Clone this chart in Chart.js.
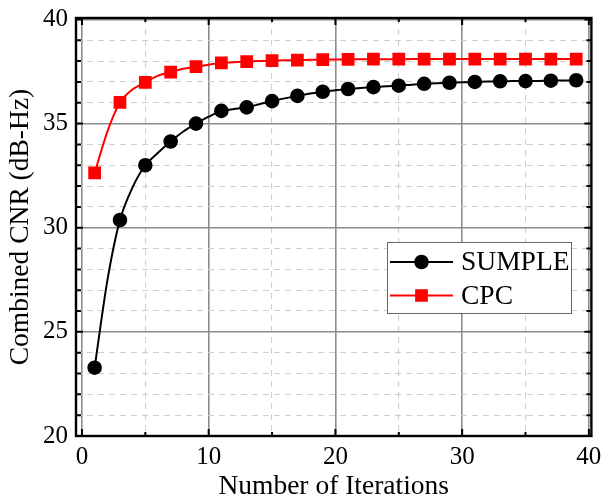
<!DOCTYPE html>
<html><head><meta charset="utf-8">
<script src="https://cdn.jsdelivr.net/npm/chart.js@4"></script>
<style>html,body{margin:0;padding:0;background:#fff}#wrap{width:601px;height:501px}</style>
</head><body><div id="wrap"><canvas id="c" width="601" height="501"></canvas></div>
<script>
const iterations = [1,2,3,4,5,6,7,8,9,10,11,12,13,14,15,16,17,18,19,20,21,22,23,24,25,26,27,28,29,30,31,32,33,34,35,36,37,38,39];
const sumple = [23.28,27.45,30.37,31.95,33.0,33.6,34.14,34.62,35.0,35.33,35.61,35.7,35.78,35.93,36.08,36.21,36.33,36.44,36.53,36.6,36.66,36.71,36.75,36.79,36.82,36.87,36.91,36.94,36.96,36.98,37.0,37.02,37.03,37.04,37.04,37.05,37.06,37.07,37.08];
const cpc = [32.63,34.6,36.02,36.65,36.98,37.3,37.47,37.63,37.73,37.83,37.91,37.95,37.98,38.0,38.02,38.04,38.05,38.06,38.07,38.08,38.08,38.09,38.09,38.09,38.09,38.1,38.1,38.1,38.1,38.1,38.1,38.1,38.1,38.1,38.1,38.1,38.1,38.1,38.1];
const seriesNames = ['SUMPLE','CPC'];
const xTicks = [0,5,10,15,20,25,30,35,40];
const yTicks = [20,21,22,23,24,25,26,27,28,29,30,31,32,33,34,35,36,37,38,39,40];
const xTitle = 'Number of Iterations';
const yTitle = 'Combined CNR (dB-Hz)';

const FONT = "'Liberation Serif','Times New Roman',serif";
const isMajorX = v => v % 10 === 0;
const isMajorY = v => v % 5 === 0;
const hasMarker = v => v % 2 === 1;
const markerSize = {circle: 6.3, rect: 7.6};

const framePlugin = {
  id: 'frame',
  afterDatasetsDraw(chart) {
    const {ctx, chartArea: a, scales: {x, y}} = chart;
    ctx.save();
    ctx.strokeStyle = '#000';
    ctx.lineWidth = 2;
    ctx.beginPath();
    xTicks.forEach(v => {
      const px = x.getPixelForValue(v);
      const L = isMajorX(v) ? 7 : 4;
      ctx.moveTo(px, a.bottom); ctx.lineTo(px, a.bottom - L);
      ctx.moveTo(px, a.top); ctx.lineTo(px, a.top + L);
    });
    yTicks.forEach(v => {
      const py = y.getPixelForValue(v);
      const L = isMajorY(v) ? 7 : 5;
      ctx.moveTo(a.left, py); ctx.lineTo(a.left + L, py);
      ctx.moveTo(a.right, py); ctx.lineTo(a.right - L, py);
    });
    ctx.stroke();
    ctx.lineWidth = 2.4;
    ctx.strokeRect(a.left, a.top, a.right - a.left, a.bottom - a.top);
    ctx.restore();
  },
  afterDraw(chart) {
    const {ctx} = chart;
    const bx = 387, by = 242, bw = 184, bh = 71;
    ctx.save();
    ctx.fillStyle = '#fff';
    ctx.fillRect(bx, by, bw, bh);
    ctx.strokeStyle = '#666';
    ctx.lineWidth = 1;
    ctx.strokeRect(bx + 0.5, by + 0.5, bw, bh);
    const rows = [262, 295.5];
    chart.data.datasets.forEach((ds, i) => {
      const yy = rows[i];
      ctx.strokeStyle = ds.borderColor;
      ctx.lineWidth = 2;
      ctx.beginPath(); ctx.moveTo(390, yy); ctx.lineTo(453, yy); ctx.stroke();
      ctx.fillStyle = ds.backgroundColor;
      ctx.strokeStyle = ds.borderColor;
      Chart.helpers.drawPoint(ctx, {pointStyle: ds.pointStyle, radius: markerSize[ds.pointStyle], borderWidth: 1, rotation: 0}, 421.5, yy);
      ctx.fillStyle = '#000';
      ctx.font = '27.5px ' + FONT;
      ctx.textBaseline = 'middle';
      ctx.textAlign = 'left';
      ctx.fillText(ds.label, 461, yy + 1);
    });
    ctx.restore();
  }
};

const mk = vals => iterations.map((it, i) => ({x: it, y: vals[i]}));
const radiusFor = style => c => (c.raw && hasMarker(c.raw.x)) ? markerSize[style] : 0;

new Chart(document.getElementById('c'), {
  type: 'line',
  data: {
    datasets: [
      {label: seriesNames[0], data: mk(sumple), borderColor: '#000', backgroundColor: '#000',
       pointStyle: 'circle', pointRadius: radiusFor('circle'), pointHoverRadius: radiusFor('circle'), borderWidth: 2, tension: 0.25},
      {label: seriesNames[1], data: mk(cpc), borderColor: '#ff0000', backgroundColor: '#ff0000',
       pointStyle: 'rect', pointRadius: radiusFor('rect'), pointHoverRadius: radiusFor('rect'), borderWidth: 2, tension: 0.25}
    ]
  },
  options: {
    responsive: false,
    animation: false,
    events: [],
    layout: {padding: {top: 18, right: 7.5, left: 0, bottom: 0}},
    plugins: {legend: {display: false}, tooltip: {enabled: false}},
    scales: {
      x: {
        type: 'linear', min: -0.47, max: 40.2,
        afterBuildTicks: s => { s.ticks = xTicks.map(v => ({value: v})); },
        afterFit: s => { s.height = 65; s.paddingLeft = 0; s.paddingRight = 0; },
        ticks: {callback: v => isMajorX(v) ? String(v) : '', autoSkip: false, maxRotation: 0,
                font: {family: FONT, size: 25}, color: '#000', padding: 6},
        grid: {drawTicks: false,
               color: c => (c.tick && isMajorX(c.tick.value)) ? '#8c8c8c' : '#cfcfcf',
               lineWidth: c => (c.tick && isMajorX(c.tick.value)) ? 1.6 : 1.1},
        border: {display: false, dash: c => (c.tick && isMajorX(c.tick.value)) ? [] : [6, 5]},
        title: {display: true, text: xTitle, color: '#000', font: {family: FONT, size: 27.5, lineHeight: 1}, padding: {top: 0, bottom: 0}}
      },
      y: {
        type: 'linear', min: 20, max: 40.07,
        afterBuildTicks: s => { s.ticks = yTicks.map(v => ({value: v})); },
        afterFit: s => { s.width = 76; s.paddingTop = 0; s.paddingBottom = 0; },
        ticks: {callback: v => isMajorY(v) ? String(v) : '', autoSkip: false,
                font: {family: FONT, size: 25}, color: '#000', padding: 8},
        grid: {drawTicks: false,
               color: c => (c.tick && isMajorY(c.tick.value)) ? '#8c8c8c' : '#cfcfcf',
               lineWidth: c => (c.tick && isMajorY(c.tick.value)) ? 1.6 : 1.1},
        border: {display: false, dash: c => (c.tick && isMajorY(c.tick.value)) ? [] : [6, 5]},
        title: {display: true, text: yTitle, color: '#000', font: {family: FONT, size: 27.5, lineHeight: 1}, padding: {top: 7, bottom: 0}}
      }
    }
  },
  plugins: [framePlugin]
});
</script></body></html>
